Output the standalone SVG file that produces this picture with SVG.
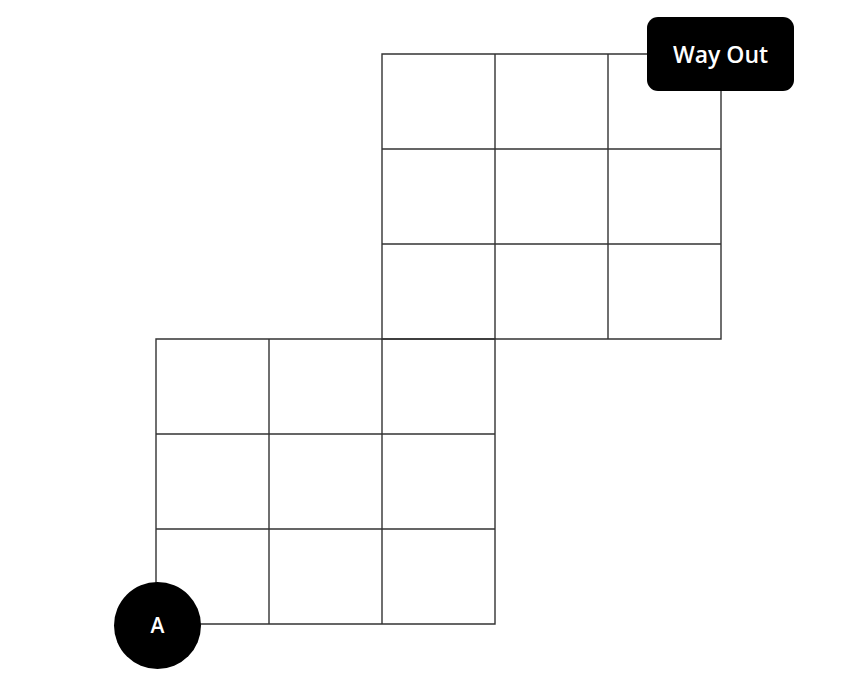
<svg xmlns="http://www.w3.org/2000/svg" width="842" height="688" viewBox="0 0 842 688">
<style>
.g{stroke:#333;stroke-width:1.4;fill:none}
.t{fill:#fff;font-family:"Open Sans","Liberation Sans",sans-serif;text-anchor:middle;font-weight:600}
</style>
<rect width="842" height="688" fill="#fff"/>
<g id="connectors">
<path class="g" d="M382,54H721V339H382Z M495,54V339 M608,54V339 M382,149H721 M382,244H721"/>
<path class="g" d="M156,339H495V624H156Z M269,339V624 M382,339V624 M156,434H495 M156,529H495"/>
</g>
<g id="wayout">
<rect x="647" y="17" width="147" height="74" rx="11" fill="#000"/>
<text class="t" x="720.5" y="63" font-size="23">Way Out</text>
</g>
<g id="A">
<circle cx="157.5" cy="625.5" r="43.5" fill="#000"/>
<text class="t" x="157.5" y="633" font-size="21">A</text>
</g>
</svg>
